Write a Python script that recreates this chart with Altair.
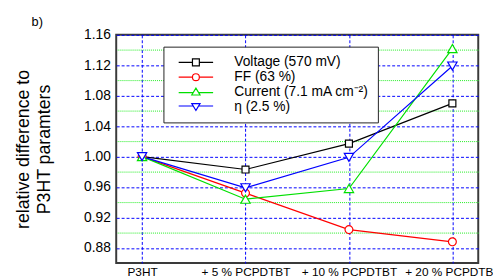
import altair as alt
import pandas as pd

categories = ["P3HT", "+ 5 % PCPDTBT", "+ 10 % PCPDTBT", "+ 20 % PCPDTBT"]
series_names = ["Voltage (570 mV)", "FF (63 %)", "Current (7.1 mA cm\u207b\u00b2)", "\u03b7 (2.5 %)"]
voltage = [1.000, 0.983, 1.017, 1.070]
ff = [1.000, 0.952, 0.904, 0.888]
current = [1.000, 0.944, 0.958, 1.142]
eta = [1.000, 0.959, 0.999, 1.119]
colors = ["#000000", "#ff0000", "#00e000", "#0000ff"]
shapes = ["square", "circle", "triangle-up", "triangle-down"]
sizes = [50, 64, 90, 90]
legend_paths = [
    "M-5,0H-1M1,0H5M-1,-1H1V1H-1Z",
    "M-5,0H-1M1,0H5M-1,0A1,1 0 1,0 1,0A1,1 0 1,0 -1,0Z",
    "M-5,0.2H-0.9M0.9,0.2H5M0,-1.1L1.2,0.9H-1.2Z",
    "M-5,-0.2H-0.9M0.9,-0.2H5M0,1.1L1.2,-0.9H-1.2Z",
]
major_ticks = [0.88, 0.92, 0.96, 1.00, 1.04, 1.08, 1.12, 1.16]
minor_ticks = [0.90, 0.94, 0.98, 1.02, 1.06, 1.10, 1.14]
y_domain = [0.86, 1.16]

rows = []
for name, vals in zip(series_names, [voltage, ff, current, eta]):
    for c, v in zip(categories, vals):
        rows.append({"series": name, "cat": c, "value": v})
df = pd.DataFrame(rows)

FONT = "Liberation Sans"
x_scale = alt.Scale(type="point", domain=categories, padding=0.25)
y_scale = alt.Scale(domain=y_domain, nice=False, zero=False)

x_axis = alt.Axis(title=None, grid=True, gridColor="#0000ff", gridDash=[3, 2], gridWidth=1,
                  ticks=False, domain=False, labelAngle=0, labelFontSize=12, labelPadding=4,
                  labelColor="black", labelFont=FONT)
x_enc = alt.X("cat:N", sort=categories, scale=x_scale, axis=x_axis)

y_axis = alt.Axis(values=major_ticks, format=".2f", orient="left", grid=True, gridColor="#0000ff",
                  gridDash=[3, 2], gridWidth=1, ticks=False, domain=False,
                  labelFontSize=14, labelPadding=6, labelColor="black", labelFont=FONT,
                  title=["relative difference to", "P3HT paramters"], titleFontSize=18,
                  titleFontWeight="normal", titleFont=FONT, titleColor="black",
                  titlePadding=31, titleLineHeight=21)
y_enc = alt.Y("value:Q", scale=y_scale, axis=y_axis)
y_none = alt.Y("value:Q", scale=y_scale, axis=None)
y_minor = alt.Y(
    "value:Q", scale=y_scale,
    axis=alt.Axis(values=minor_ticks, orient="right", grid=True, gridColor="#22ee22",
                  gridDash=[1, 1], gridWidth=1, ticks=False, domain=False, labels=False,
                  title=None),
)

legend = alt.Legend(
    title=None, orient="none", legendX=48, legendY=12, fillColor="white", strokeColor="#222222",
    padding=9, symbolSize=49, symbolStrokeWidth=1.2, symbolOpacity=1,
    symbolOffset=17, labelOffset=32, labelFontSize=14, labelFont=FONT, labelColor="black",
    rowPadding=1, labelLimit=300,
)
legend_layer = alt.Chart(df).mark_point(opacity=0, filled=False).encode(
    x=x_enc, y=y_minor,
    color=alt.Color("series:N", scale=alt.Scale(domain=series_names, range=colors), legend=legend),
    shape=alt.Shape("series:N", scale=alt.Scale(domain=series_names, range=legend_paths), legend=legend),
)

line_layers = []
point_layers = []
for i, (name, shp, col, sz) in enumerate(zip(series_names, shapes, colors, sizes)):
    base = alt.Chart(df).transform_filter(alt.FieldEqualPredicate(field="series", equal=name))
    line_layers.append(base.mark_line(strokeWidth=1.2, color=col).encode(
        x=x_enc, y=y_enc if i == 0 else y_none))
    point_layers.append(
        base.mark_point(shape=shp, filled=True, fill="white", stroke=col, strokeWidth=1.2,
                        size=sz, opacity=1).encode(x=x_enc, y=y_none)
    )

chart = alt.layer(*line_layers, legend_layer, *point_layers).resolve_axis(y="independent").properties(
    width=368, height=232,
    title=alt.Title("b)", anchor="start", frame="group", dx=-86, offset=-1, fontSize=13,
                    fontWeight="normal", font=FONT, color="black"),
    autosize=alt.AutoSizeParams(type="none"),
    padding={"left": 110, "top": 25, "right": 15, "bottom": 22},
    background="white",
).configure_view(stroke="#3a3a3a", strokeWidth=2)

chart.save("out.html", embed_options={"renderer": "svg", "actions": False})
